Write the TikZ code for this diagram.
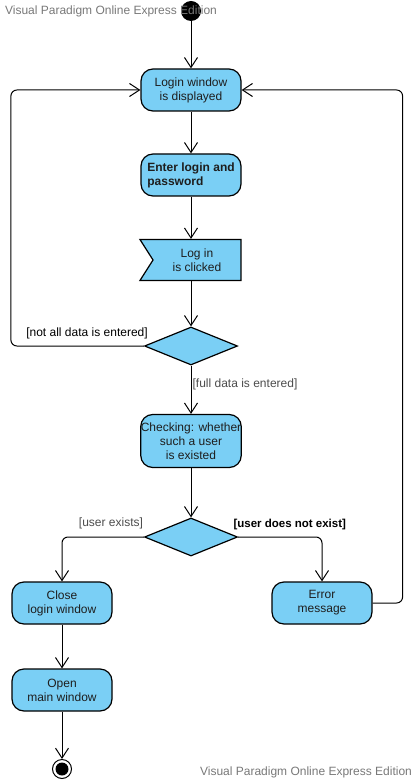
\documentclass[tikz,border=0pt]{standalone}
\usepackage{fontspec}
\setmainfont{Liberation Sans}
\usetikzlibrary{arrows.meta,shapes.geometric,shapes.symbols}
\definecolor{myskyblue}{RGB}{122,207,245}
\definecolor{mygray}{RGB}{120,120,120}
\definecolor{mytext}{RGB}{30,30,30}
\tikzstyle{action}=[draw,fill=myskyblue,rectangle,rounded corners=12pt,minimum width=100pt,minimum height=42pt,inner sep=0pt,align=center,text=mytext,line width=1.2pt]
\tikzstyle{signalbox}=[draw,fill=myskyblue,signal,signal from=west,signal to=nowhere,signal pointer angle=115,minimum width=101pt,minimum height=41pt,inner sep=0pt,align=center,text=mytext,line width=1.2pt]
\tikzstyle{decision}=[draw,fill=myskyblue,diamond,minimum width=93pt,minimum height=38pt,inner sep=0pt,line width=1.2pt]
\tikzstyle{start}=[fill=black,circle,minimum size=20pt,inner sep=0pt]
\tikzstyle{final}=[draw,fill=white,circle,minimum size=19pt,inner sep=0pt,line width=1pt,path picture={\fill[black] (path picture bounding box.center) circle (6.5pt);}]
\tikzstyle{guard}=[inner sep=0pt,text=mytext]
\tikzstyle{watermark}=[inner sep=0pt,text=mygray]

\begin{document}
\begin{tikzpicture}[x=1pt,y=-1pt,line width=1pt,>={Straight Barb[length=10pt,width=13pt]},font=\fontsize{12}{14}\selectfont]
\useasboundingbox (0,0) rectangle (418,783);
\draw (191,11) node [start] (n0) {};
\draw (191,90) node [action] (n1) {Login window\\is displayed};
\draw (191,175) node [action,align=left,font=\fontsize{12}{14}\selectfont\bfseries] (n2) {Enter login and\\password};
\draw (197,260) node [signalbox] (n3) {Log in\\is clicked};
\draw (191,346) node [decision] (n4) {};
\draw (191,441) node [action,minimum height=53pt] (n5) {Checking: whether\\such a user\\is existed};
\draw (191,537) node [decision] (n6) {};
\draw (62,603) node [action] (n7) {Close\\login window};
\draw (322,603) node [action] (n8) {Error\\message};
\draw (62,690) node [action] (n9) {Open\\main window};
\draw (62,769) node [final] (n10) {};
% guards
\draw (87,333) node [guard,text=black] (g1) {[not all data is entered]};
\draw (245,384) node [guard,text=black!70] (g2) {[full data is entered]};
\draw (111,523) node [guard,text=black!70] (g3) {[user exists]};
\draw (233,525) node [guard,anchor=west,text=black,font=\fontsize{11.5}{14}\selectfont\bfseries] (g4) {[user does not exist]};
% flows
\draw[->] (n0) -- (n1);
\draw[->] (n1) -- (n2);
\draw[->] (n2) -- (n2 |- n3.north);
\draw[->] (n2 |- n3.south) -- (n4);
\draw[->] (n4) -- (n5);
\draw[->] (n5) -- (n6);
\draw[->] (n7) -- (n9);
\draw[->] (n9) -- (n10);
\draw[->,rounded corners=6pt] (n4.west) -- ++(-133,0) |- (n1.west);
\draw[->,rounded corners=6pt] (n6.west) -| (n7.north);
\draw[->,rounded corners=6pt] (n6.east) -| (n8.north);
\draw[->,rounded corners=6pt] (n8.east) -- ++(30,0) |- (n1.east);
% watermark
\draw (111,11) node [watermark] (w1) {Visual Paradigm Online Express Edition};
\draw (306,772) node [watermark] (w2) {Visual Paradigm Online Express Edition};
\end{tikzpicture}
\end{document}
